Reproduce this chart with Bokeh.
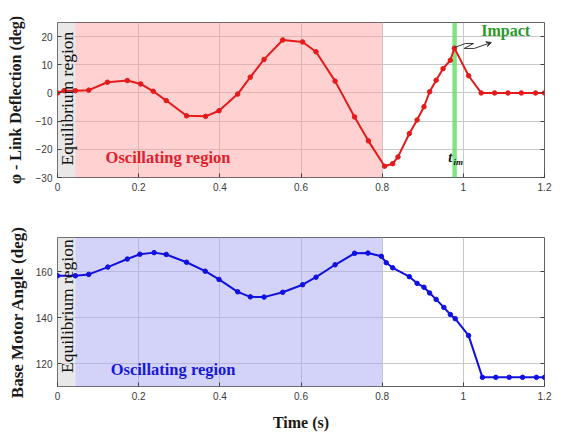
from bokeh.plotting import figure
from bokeh.layouts import column
from bokeh.models import (BoxAnnotation, Label, FixedTicker, CustomJSTickFormatter,
                          LinearAxis, Range1d, Arrow, VeeHead)
from bokeh.embed import file_html
from bokeh.resources import INLINE

# ---- data ----
t_defl = [0.0, 0.016, 0.044, 0.077, 0.123, 0.172, 0.205, 0.236, 0.268, 0.318, 0.365,
          0.398, 0.444, 0.475, 0.509, 0.555, 0.604, 0.637, 0.684, 0.732, 0.766, 0.806,
          0.826, 0.839, 0.867, 0.886, 0.903, 0.917, 0.933, 0.950, 0.968, 0.978, 1.013,
          1.044, 1.077, 1.110, 1.143, 1.178, 1.200]
defl = [0.0, 0.8, 0.8, 1.0, 3.8, 4.4, 3.2, 0.6, -2.7, -8.1, -8.3,
        -6.3, -0.4, 5.6, 11.9, 18.8, 18.1, 14.6, 4.2, -8.5, -17.0, -26.0,
        -25.1, -22.7, -14.4, -9.6, -4.9, 0.4, 4.5, 8.6, 11.6, 15.9, 6.1,
        0.0, 0.0, 0.0, 0.0, 0.0, 0.0]

t_motor = [0.0, 0.044, 0.077, 0.124, 0.172, 0.203, 0.238, 0.268, 0.318, 0.364, 0.398,
           0.444, 0.475, 0.509, 0.555, 0.604, 0.637, 0.684, 0.732, 0.765, 0.798,
           0.810, 0.826, 0.867, 0.886, 0.903, 0.917, 0.933, 0.952, 0.968, 0.980,
           1.013, 1.047, 1.080, 1.113, 1.146, 1.180, 1.200]
motor = [158.3, 158.3, 158.9, 162.1, 165.6, 167.7, 168.4, 167.6, 164.2, 160.3, 156.7,
         151.3, 149.1, 149.0, 151.1, 154.4, 157.7, 163.1, 168.1, 168.2, 166.8,
         164.0, 161.8, 157.9, 155.0, 153.3, 150.8, 148.0, 144.5, 141.4, 139.6,
         132.2, 114.0, 114.0, 114.0, 114.0, 114.0, 114.0]

x_ticks = [0, 0.2, 0.4, 0.6, 0.8, 1.0, 1.2]
defl_ticks = [-30, -20, -10, 0, 10, 20]
motor_ticks = [120, 140, 160]

equil_end = 0.044
osc_end = 0.8
impact_t0, impact_t1 = 0.973, 0.984
impact_path_x = [0.978, 1.005, 1.025, 1.002, 1.027]
impact_path_y = [16.1, 17.55, 17.55, 15.8, 15.8]
impact_tip = (1.069, 17.9)

SERIF = "Liberation Serif"
SANS = "Liberation Sans"

fmt = CustomJSTickFormatter(code="return String(+tick.toFixed(2));")
empty_fmt = CustomJSTickFormatter(code="return '';")


def style(p, yticks, ylabel, ylabel_size, ylabel_standoff):
    p.outline_line_color = "#606060"
    p.outline_line_width = 1
    for ax in p.axis:
        ax.axis_line_color = None
        ax.major_tick_in = 4
        ax.major_tick_out = 0
        ax.minor_tick_line_color = None
        ax.major_tick_line_color = "#404040"
        ax.major_label_text_font = SANS
        ax.major_label_text_font_size = "10px"
        ax.major_label_text_color = "#3a3a3a"
        ax.major_label_standoff = 5
        ax.axis_label_text_font = SERIF
        ax.axis_label_text_font_style = "bold"
        ax.axis_label_text_font_size = "16px"
        ax.axis_label_text_color = "#1a1a1a"
    p.xaxis.ticker = FixedTicker(ticks=x_ticks)
    p.xaxis.formatter = fmt
    p.yaxis.ticker = FixedTicker(ticks=yticks)
    p.yaxis.axis_label = ylabel
    p.yaxis.axis_label_text_font_size = ylabel_size
    p.yaxis.axis_label_standoff = ylabel_standoff
    p.xgrid.ticker = FixedTicker(ticks=x_ticks)
    p.ygrid.ticker = FixedTicker(ticks=yticks)
    p.grid.grid_line_color = "#c8c8c8"
    p.grid.grid_line_width = 1
    right = LinearAxis(ticker=FixedTicker(ticks=yticks), formatter=empty_fmt,
                       axis_line_color=None, major_tick_in=4, major_tick_out=0,
                       minor_tick_line_color=None, major_label_standoff=0,
                       major_tick_line_color="#404040")
    p.add_layout(right, "right")


# ---- top figure ----
p1 = figure(width=554, height=200, x_range=Range1d(0, 1.2), y_range=Range1d(-30, 25),
            output_backend="svg", toolbar_location=None,
            min_border_left=57, min_border_right=10, min_border_top=22, min_border_bottom=23)
style(p1, defl_ticks, "φ - Link Deflection (deg)", "16px", 9)

p1.add_layout(BoxAnnotation(left=0, right=equil_end, fill_color="#d8d8d8", fill_alpha=0.6,
                            line_color=None, level="underlay"))
p1.add_layout(BoxAnnotation(left=equil_end, right=osc_end, fill_color="#ff9a9a", fill_alpha=0.45,
                            line_color=None, level="underlay"))
p1.add_layout(BoxAnnotation(left=impact_t0, right=impact_t1, fill_color="#5ee05e", fill_alpha=0.8,
                            line_color=None, level="underlay"))

p1.line(t_defl, defl, line_color="#e51a1a", line_width=2)
p1.scatter(t_defl, defl, size=4.5, fill_color="#e51a1a", line_color="#e51a1a")

p1.line(impact_path_x, impact_path_y, line_color="#333333", line_width=1)
p1.add_layout(Arrow(end=VeeHead(size=5, line_color="#333333", fill_color="#333333"),
                    x_start=impact_path_x[-1], y_start=impact_path_y[-1],
                    x_end=impact_tip[0], y_end=impact_tip[1],
                    line_color="#333333", line_width=1))

p1.add_layout(Label(x=0.024, y=-25.7, text="Equilibrium region", angle=90, angle_units="deg",
                    text_font=SERIF, text_font_size="17.5px", text_color="#111111",
                    text_baseline="middle"))
p1.add_layout(Label(x=0.1185, y=-22.9, text="Oscillating region", text_font=SERIF,
                    text_font_style="bold", text_font_size="16.5px", text_color="#e0202a",
                    text_baseline="middle"))
p1.add_layout(Label(x=1.044, y=22.2, text="Impact", text_font=SERIF,
                    text_font_style="bold", text_font_size="16px", text_color="#2a9a2a",
                    text_baseline="middle"))
p1.add_layout(Label(x=0.963, y=-22.8, text="t", text_font=SERIF,
                    text_font_style="bold italic", text_font_size="14px", text_color="#111111",
                    text_baseline="middle"))
p1.add_layout(Label(x=0.976, y=-24.6, text="im", text_font=SERIF,
                    text_font_style="bold italic", text_font_size="9px", text_color="#111111",
                    text_baseline="middle"))

# ---- bottom figure ----
p2 = figure(width=554, height=233, x_range=Range1d(0, 1.2), y_range=Range1d(110, 175),
            output_backend="svg", toolbar_location=None,
            min_border_left=57, min_border_right=10, min_border_top=37, min_border_bottom=41)
style(p2, motor_ticks, "Base Motor Angle (deg)", "17px", 6)
p2.xaxis.axis_label = "Time (s)"
p2.xaxis.axis_label_standoff = 11

p2.add_layout(BoxAnnotation(left=0, right=equil_end, fill_color="#d8d8d8", fill_alpha=0.6,
                            line_color=None, level="underlay"))
p2.add_layout(BoxAnnotation(left=equil_end, right=osc_end, fill_color="#a8a8f4", fill_alpha=0.5,
                            line_color=None, level="underlay"))

p2.line(t_motor, motor, line_color="#1010e0", line_width=2)
p2.scatter(t_motor, motor, size=4.5, fill_color="#1010e0", line_color="#1010e0")

p2.add_layout(Label(x=0.024, y=115.9, text="Equilibrium region", angle=90, angle_units="deg",
                    text_font=SERIF, text_font_size="17.5px", text_color="#111111",
                    text_baseline="middle"))
p2.add_layout(Label(x=0.131, y=117.2, text="Oscillating region", text_font=SERIF,
                    text_font_style="bold", text_font_size="16.5px", text_color="#1818d8",
                    text_baseline="middle"))

layout = column(p1, p2, spacing=0)
open("out.html", "w").write(file_html(layout, INLINE))
